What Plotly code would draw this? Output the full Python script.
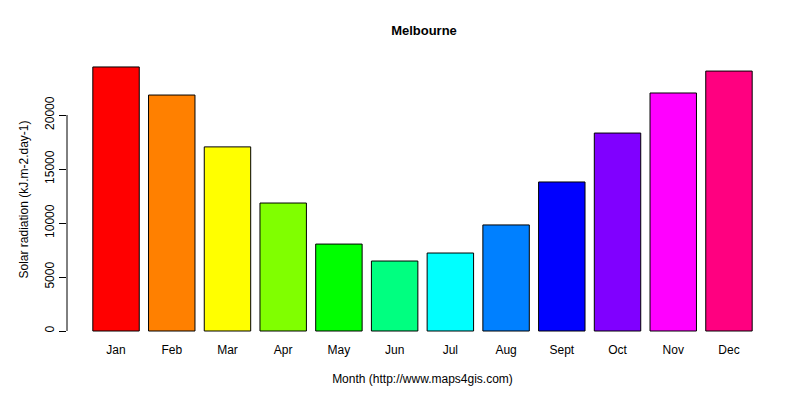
import plotly.graph_objects as go

months = ["Jan", "Feb", "Mar", "Apr", "May", "Jun", "Jul", "Aug", "Sept", "Oct", "Nov", "Dec"]
radiation = [24450, 21850, 17050, 11850, 8050, 6480, 7220, 9820, 13800, 18330, 22040, 24070]
colors = ["#FF0000", "#FF8000", "#FFFF00", "#80FF00", "#00FF00", "#00FF80",
          "#00FFFF", "#0080FF", "#0000FF", "#8000FF", "#FF00FF", "#FF0080"]
y_ticks = [0, 5000, 10000, 15000, 20000]

fig = go.Figure(go.Bar(x=months, y=radiation, marker_color=colors,
                       marker_line_color="black", marker_line_width=1))

fig.update_layout(
    width=800, height=400,
    paper_bgcolor="white", plot_bgcolor="white",
    margin=dict(l=59, r=30, t=50, b=67, autoexpand=False),
    font=dict(family="Liberation Sans, Arial", size=12, color="black"),
    title=dict(text="<b>Melbourne</b>", x=0.52, xanchor="center", y=0.945, yanchor="middle",
               font=dict(size=13)),
    bargap=0.1667,
    showlegend=False,
)
fig.update_xaxes(range=[-0.88, 11.88], showline=False, ticks="", showgrid=False,
                 automargin=False,
                 title=dict(text="Month (http://www.maps4gis.com)", standoff=18,
                            font=dict(size=12)))
fig.update_yaxes(range=[-926, 25280], showline=False, showgrid=False, zeroline=False,
                 automargin=False,
                 tickvals=y_ticks, ticktext=[str(v) for v in y_ticks],
                 ticks="outside", ticklen=7, tickcolor="black", tickangle=-90,
                 title=dict(text="Solar radiation (kJ.m-2.day-1)", standoff=12,
                            font=dict(size=12)))
fig.add_shape(type="line", xref="paper", yref="y", x0=0, x1=0, y0=0, y1=20000,
              line=dict(color="black", width=1))

fig.write_html("out.html")
